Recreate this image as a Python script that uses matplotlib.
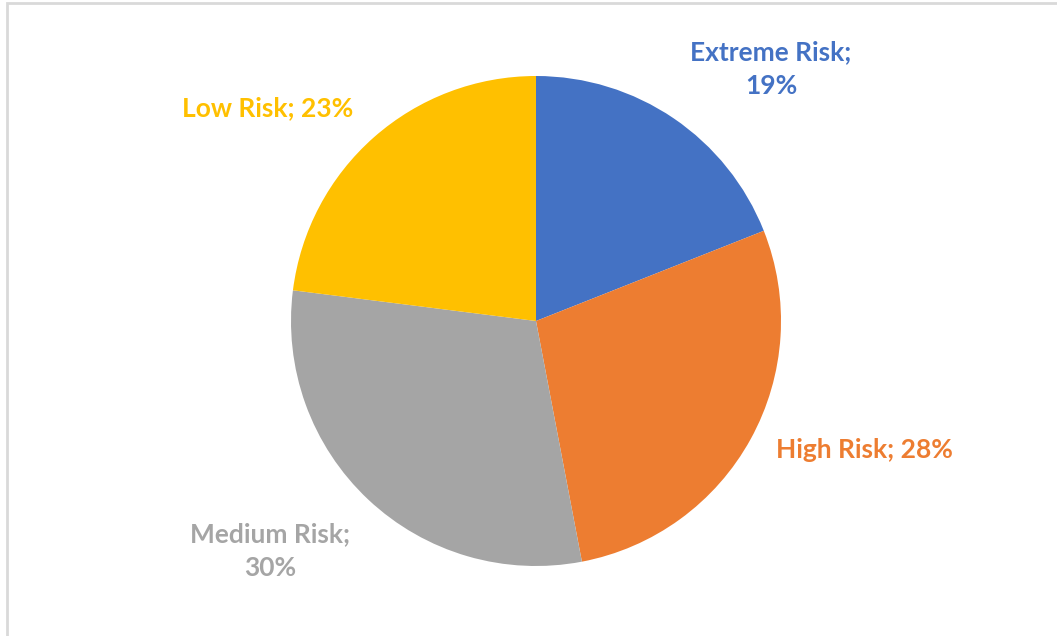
import matplotlib
matplotlib.use('Agg')
import matplotlib.pyplot as plt
from matplotlib.patches import Rectangle

# data
labels = ['Extreme Risk', 'High Risk', 'Medium Risk', 'Low Risk']
shares = [19, 28, 30, 23]
colors = ['#4472C4', '#ED7D31', '#A5A5A5', '#FFC000']
label_text = ['Extreme Risk;\n19%', 'High Risk; 28%', 'Medium Risk;\n30%', 'Low Risk; 23%']

W, H = 1057, 636
fig = plt.figure(figsize=(W / 100, H / 100), dpi=100)
ax = fig.add_axes([0, 0, 1, 1])

ax.pie(shares, colors=colors, startangle=90, counterclock=False,
       center=(536, H - 321), radius=245, frame=True,
       wedgeprops=dict(linewidth=0))

ax.set_xlim(0, W)
ax.set_ylim(0, H)
ax.set_aspect('equal')
ax.axis('off')

# chart-area border (light gray, runs off right/bottom edges)
ax.add_patch(Rectangle((7, -10), W, H - 3 + 10, fill=False,
                       edgecolor='#d9d9d9', linewidth=2, clip_on=False))

# data labels (pixel positions from the reference)
label_pos = [(771, 69), (864, 450), (270, 551), (268, 108)]
for txt, (x, y), c in zip(label_text, label_pos, colors):
    ax.text(x, H - y, txt, color=c, ha='center', va='center',
            fontsize=19, fontweight='bold', family='Lato',
            linespacing=1.45)

fig.savefig('out.png', dpi=100)
